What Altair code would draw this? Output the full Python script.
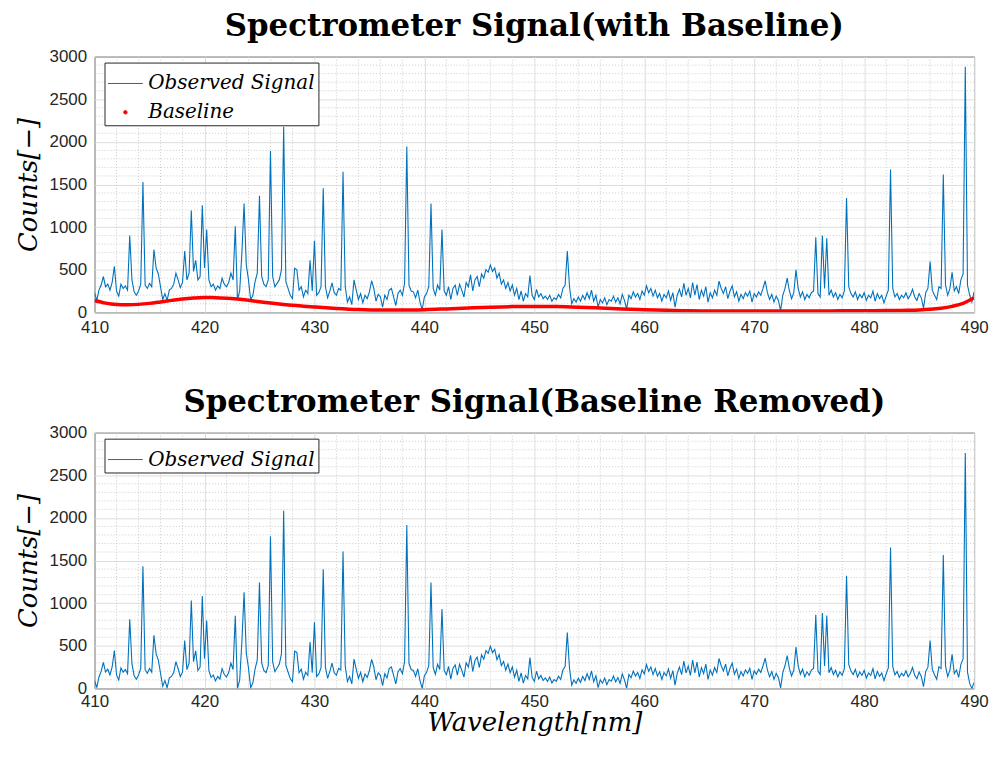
import altair as alt
import numpy as np
import pandas as pd

# ---------------- data ----------------
# spectrum sampled every 0.2 nm from 410 to 490 nm (5 samples per nm row)
WL_START = 410.0
WL_STEP = 0.2
observed = [
    230, 140, 260, 320, 420,   # 410
    300, 330, 260, 350, 540,   # 411
    250, 190, 330, 280, 310,   # 412
    260, 900, 380, 240, 200,   # 413
    250, 330, 1530, 320, 280,  # 414
    340, 300, 735, 520, 450,   # 415
    300, 150, 220, 140, 260,   # 416
    280, 330, 460, 380, 290,   # 417
    350, 720, 380, 460, 1195,  # 418
    480, 610, 380, 420, 1256,  # 419
    520, 970, 380, 300, 330,   # 420
    260, 310, 280, 400, 330,   # 421
    300, 350, 460, 380, 1010,  # 422
    150, 250, 700, 1275, 560,  # 423
    380, 145, 200, 360, 460,   # 424
    1368, 420, 330, 300, 380,  # 425
    1893, 420, 300, 340, 380,  # 426
    500, 2176, 360, 280, 200,  # 427
    160, 517, 500, 260, 300,   # 428
    180, 260, 220, 610, 250,   # 429
    840, 200, 230, 300, 1455,  # 430
    300, 170, 250, 345, 230,   # 431
    200, 280, 260, 1648, 300,  # 432
    120, 180, 90, 380, 260,    # 433
    150, 220, 110, 200, 160,   # 434
    240, 370, 280, 130, 210,   # 435
    180, 60, 200, 150, 260,    # 436
    280, 180, 80, 220, 260,    # 437
    200, 340, 1946, 320, 250,  # 438
    240, 170, 260, 120, 30,    # 439
    180, 220, 300, 1275, 280,  # 440
    200, 320, 260, 970, 250,   # 441
    200, 300, 150, 280, 320,   # 442
    200, 330, 260, 180, 350,   # 443
    300, 440, 250, 380, 420,   # 444
    300, 450, 400, 500, 470,   # 445
    555, 480, 520, 400, 460,   # 446
    330, 380, 280, 350, 250,   # 447
    320, 200, 280, 150, 250,   # 448
    130, 220, 180, 430, 200,   # 449
    150, 270, 180, 220, 160,   # 450
    190, 150, 200, 130, 170,   # 451
    150, 210, 170, 280, 320,   # 452
    720, 300, 100, 160, 120,   # 453
    180, 130, 200, 150, 230,   # 454
    160, 260, 130, 200, 60,    # 455
    150, 110, 170, 90, 150,    # 456
    130, 190, 120, 170, 100,   # 457
    210, 140, 40, 200, 160,    # 458
    240, 180, 220, 150, 250,   # 459
    200, 310, 230, 280, 190,   # 460
    260, 170, 220, 130, 210,   # 461
    170, 250, 140, 230, 60,    # 462
    200, 270, 180, 340, 200,   # 463
    280, 170, 350, 200, 325,   # 464
    150, 260, 190, 300, 120,   # 465
    230, 170, 260, 200, 365,   # 466
    280, 220, 300, 160, 250,   # 467
    310, 180, 240, 130, 210,   # 468
    160, 230, 190, 250, 120,   # 469
    220, 180, 240, 200, 280,   # 470
    370, 230, 150, 210, 120,   # 471
    190, 140, 20, 200, 280,    # 472
    400, 250, 160, 230, 500,   # 473
    280, 180, 240, 150, 210,   # 474
    170, 230, 250, 880, 220,   # 475
    180, 900, 280, 870, 200,   # 476
    260, 180, 230, 150, 210,   # 477
    170, 250, 1340, 300, 220,  # 478
    180, 240, 150, 210, 170,   # 479
    230, 140, 200, 170, 250,   # 480
    130, 220, 160, 200, 110,   # 481
    190, 260, 1674, 280, 180,  # 482
    220, 150, 200, 170, 230,   # 483
    160, 200, 270, 180, 140,   # 484
    220, 170, 50, 230, 280,    # 485
    595, 260, 200, 150, 300,   # 486
    280, 1617, 320, 200, 280,  # 487
    470, 250, 300, 220, 380,   # 488
    450, 2880, 320, 200, 120,  # 489
    240,                       # 490
]

baseline_wl = [410, 411, 412, 413, 414, 415, 416, 417, 418, 419, 420, 421, 422,
               423, 424, 425, 426, 427, 428, 429, 430, 432, 434, 436, 438, 440,
               442, 444, 446, 448, 450, 452, 454, 456, 458, 460, 462, 464, 466,
               468, 470, 472, 474, 476, 478, 480, 482, 484, 485, 486, 487, 488,
               489, 489.5, 490]
baseline_counts = [138, 108, 92, 88, 93, 105, 122, 140, 156, 167, 173, 172, 166,
                   155, 141, 125, 109, 95, 82, 72, 63, 46, 33, 27, 27, 31,
                   40, 50, 60, 67, 69, 67, 60, 50, 40, 31, 23, 18, 15,
                   14, 14, 14, 15, 16, 17, 18, 20, 24, 28, 35, 48, 70,
                   105, 135, 170]

x_ticks = [410, 420, 430, 440, 450, 460, 470, 480, 490]
y_ticks = [0, 500, 1000, 1500, 2000, 2500, 3000]
minor_x = [v for v in range(410, 491, 2) if v % 10 != 0]
minor_y = [v for v in range(0, 3001, 100) if v % 500 != 0]

# ---------------- derived tables ----------------
wl = np.round(WL_START + WL_STEP * np.arange(len(observed)), 1)
obs = np.array(observed, dtype=float)
removed = np.clip(obs - np.interp(wl, baseline_wl, baseline_counts), 0, None)

df_top = pd.DataFrame({"wl": wl, "counts": obs, "s1": "Observed Signal"})
df_base = pd.DataFrame({"wl": baseline_wl, "counts": baseline_counts, "s1": "Baseline"})
df_bot = pd.DataFrame({"wl": wl, "counts": removed, "s2": "Observed Signal"})
df_mx = pd.DataFrame({"mx": minor_x})
df_my = pd.DataFrame({"my": minor_y})

# ---------------- styling ----------------
BLUE = "#0072BD"
AX = "#262626"
W, H = 884, 257

xscale = alt.Scale(domain=[410, 490], nice=False, zero=False, padding=0)
yscale = alt.Scale(domain=[0, 3000], nice=False, padding=0)


def x_axis(title):
    if title:
        return alt.Axis(values=x_ticks, title=title, grid=True, ticks=False, domain=False,
                        labelPadding=5, labelFlush=False, format="d", titlePadding=0)
    return alt.Axis(values=x_ticks, title=None, grid=True, ticks=False, domain=False,
                    labelPadding=7, labelFlush=False, format="d")


y_axis = alt.Axis(values=y_ticks, title="Counts[−]", grid=True, ticks=False, domain=False,
                  labelPadding=8, labelFlush=False, titlePadding=8, format="d")


def minor_layers(xa):
    v = alt.Chart(df_mx).mark_rule(color="#cccccc", strokeDash=[1, 2], strokeWidth=1).encode(
        x=alt.X("mx:Q", scale=xscale, axis=xa))
    h = alt.Chart(df_my).mark_rule(color="#cccccc", strokeDash=[1, 2], strokeWidth=1).encode(
        y=alt.Y("my:Q", scale=yscale, axis=y_axis))
    return v, h


legend_common = dict(title=None, orient="none", legendX=10, legendY=6,
                     strokeColor=AX, fillColor="white", padding=3,
                     labelFont="DejaVu Serif", labelFontStyle="italic",
                     labelFontSize=20, labelColor="black", labelOffset=5,
                     labelLimit=500, symbolStrokeWidth=1, rowPadding=1,
                     cornerRadius=0)

legend_top = alt.Legend(
    **legend_common,
    symbolType=alt.ExprRef("datum.value === 'Baseline' ? 'circle' : 'stroke'"),
    symbolSize=alt.ExprRef("datum.value === 'Baseline' ? 12 : 1225"),
    symbolFillColor=alt.ExprRef("datum.value === 'Baseline' ? '#FF0000' : 'transparent'"),
)
legend_bot = alt.Legend(**legend_common, symbolType="stroke", symbolSize=1225)

title_kw = dict(font="DejaVu Serif", fontWeight="bold", fontSize=31, color="black",
                offset=5, anchor="middle")

# ---------------- top panel ----------------
mv, mh = minor_layers(x_axis(None))
col_top = alt.Color("s1:N", scale=alt.Scale(domain=["Observed Signal", "Baseline"],
                                            range=[BLUE, "#FF0000"]), legend=legend_top)
line_top = alt.Chart(df_top).mark_line(strokeWidth=1.1, clip=True).encode(
    x=alt.X("wl:Q", scale=xscale, axis=x_axis(None)),
    y=alt.Y("counts:Q", scale=yscale, axis=y_axis),
    color=col_top,
)
base_line = alt.Chart(df_base).mark_line(strokeWidth=3.5, interpolate="monotone", clip=True).encode(
    x=alt.X("wl:Q", scale=xscale, axis=x_axis(None)),
    y=alt.Y("counts:Q", scale=yscale, axis=y_axis),
    color=col_top,
)
top = alt.layer(mv, mh, line_top, base_line).properties(
    width=W, height=H,
    title=alt.TitleParams("Spectrometer Signal(with Baseline)", **title_kw),
)

# ---------------- bottom panel ----------------
mv2, mh2 = minor_layers(x_axis("Wavelength[nm]"))
line_bot = alt.Chart(df_bot).mark_line(strokeWidth=1.1, clip=True).encode(
    x=alt.X("wl:Q", scale=xscale, axis=x_axis("Wavelength[nm]")),
    y=alt.Y("counts:Q", scale=yscale, axis=y_axis),
    color=alt.Color("s2:N", scale=alt.Scale(domain=["Observed Signal"], range=[BLUE]),
                    legend=legend_bot),
)
bottom = alt.layer(mv2, mh2, line_bot).properties(
    width=W, height=H,
    title=alt.TitleParams("Spectrometer Signal(Baseline Removed)", **title_kw),
)

chart = alt.vconcat(top, bottom, spacing=50).resolve_scale(color="independent").resolve_legend(
    color="independent"
).configure_view(stroke=AX, strokeWidth=1).configure_axis(
    labelFont="Liberation Sans", labelFontSize=17, labelColor=AX,
    gridColor="#dedede", gridWidth=1,
    titleFont="DejaVu Serif", titleFontStyle="italic", titleFontWeight="normal",
    titleFontSize=26, titleColor="black",
).properties(
    padding={"left": 6, "top": 0, "right": 2, "bottom": 0},
    background="white",
)

chart.save("out.html", embed_options={"renderer": "svg", "actions": False})
